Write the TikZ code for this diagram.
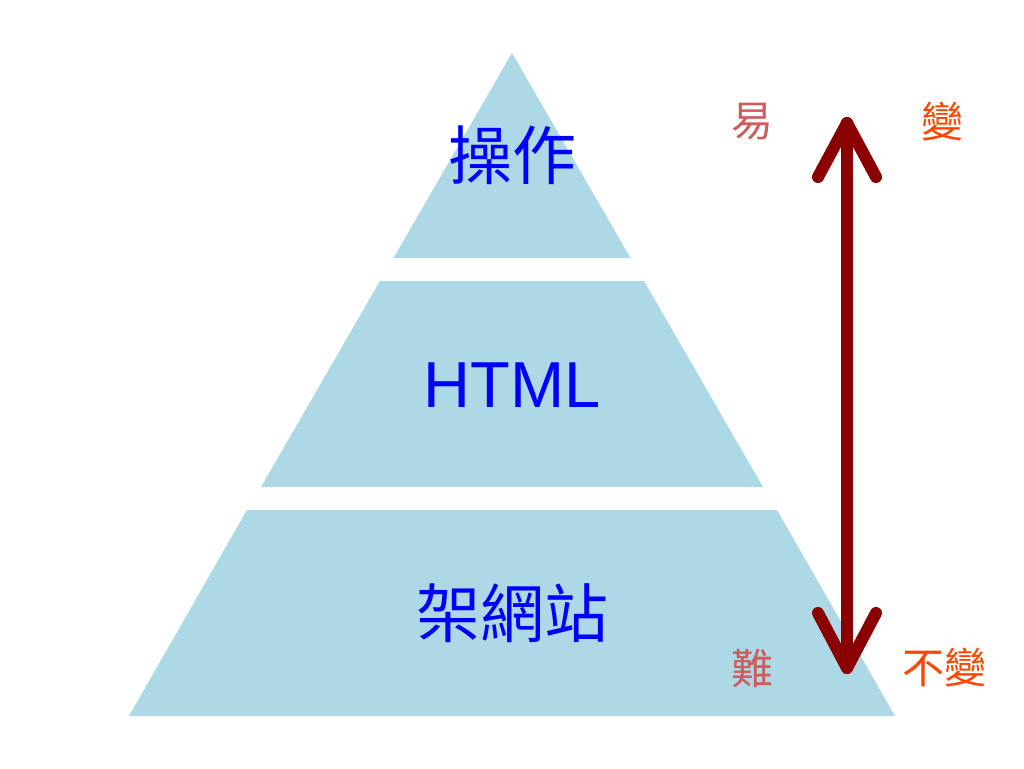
\documentclass[tikz,border=0pt]{standalone}
\usepackage{fontspec}
\setmainfont{Liberation Sans}
\newfontfamily\cjk{Noto Sans CJK TC}
\definecolor{tierfill}{RGB}{173,216,230}
\definecolor{arrowred}{RGB}{139,0,0}
\definecolor{easyred}{RGB}{205,92,92}
\definecolor{changeorange}{RGB}{255,69,0}
\begin{document}
\begin{tikzpicture}[x=1pt,y=-1pt,
  tier/.style={fill=tierfill,draw=none},
  tiertext/.style={text=blue,inner sep=0pt,font=\fontsize{65}{72}\selectfont},
  cjktext/.style={text=blue,inner sep=0pt,font=\cjk\fontsize{64}{72}\selectfont},
  sidelabel/.style={inner sep=0pt,font=\cjk\fontsize{42}{48}\selectfont},
  bigarrow/.style={draw=arrowred,line width=12pt,line cap=round,line join=round}]
\useasboundingbox (0,0) rectangle (1024,768);
% tiers
\fill[tier] (512,53) -- (630.5,258) -- (393.5,258) -- cycle;
\fill[tier] (380,281) -- (644,281) -- (763,487) -- (261,487) -- cycle;
\fill[tier] (247,510) -- (777,510) -- (895,716) -- (129,716) -- cycle;
% tier labels
\node[cjktext] (op) at (512,155) {操作};
\node[tiertext] (html) at (512,385) {HTML};
\node[cjktext] (site) at (512,613) {架網站};
% arrow
\coordinate (top) at (847,123);
\coordinate (bot) at (847,668);
\coordinate (tl) at (818,177);
\coordinate (tr) at (876,177);
\coordinate (bl) at (818,613);
\coordinate (br) at (876,613);
\draw[bigarrow] (top) -- (bot);
\draw[bigarrow] (tl) -- (top) -- (tr);
\draw[bigarrow] (bl) -- (bot) -- (br);
% side labels
\node[sidelabel,text=easyred] (easy) at (752,122) {易};
\node[sidelabel,text=changeorange] (chg) at (942,122) {變};
\node[sidelabel,text=easyred] (hard) at (752,668) {難};
\node[sidelabel,text=changeorange] (nochg) at (944,668) {不變};
\end{tikzpicture}
\end{document}
